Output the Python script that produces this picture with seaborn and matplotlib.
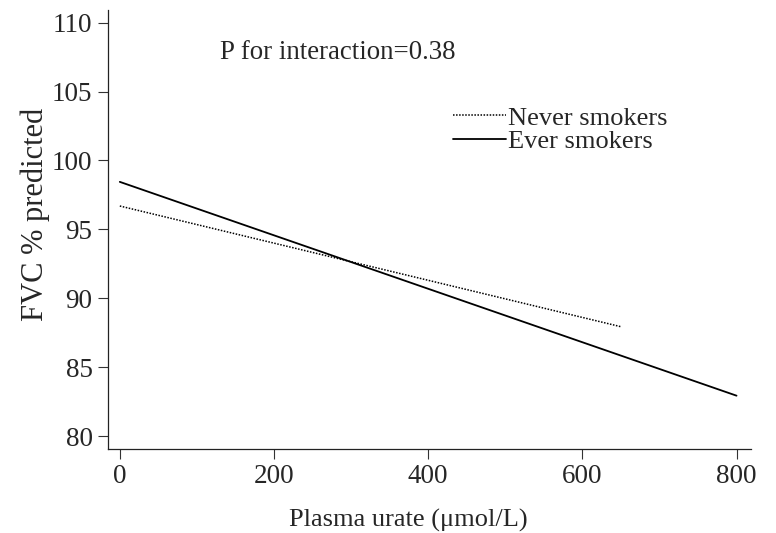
import matplotlib
matplotlib.use("Agg")
import matplotlib.pyplot as plt
import seaborn as sns
import pandas as pd

# data
never_urate = [0, 650]
never_fvc = [96.7, 87.95]
ever_urate = [0, 800]
ever_fvc = [98.45, 82.95]
x_ticks = [0, 200, 400, 600, 800]
y_ticks = [80, 85, 90, 95, 100, 105, 110]

df = pd.concat([
    pd.DataFrame({"urate": never_urate, "fvc": never_fvc, "group": "Never smokers"}),
    pd.DataFrame({"urate": ever_urate, "fvc": ever_fvc, "group": "Ever smokers"}),
])

sns.set_style("ticks")
plt.rcParams["font.family"] = ["Liberation Serif", "DejaVu Serif"]

fig = plt.figure(figsize=(7.76, 5.33), dpi=100)
ax = fig.add_axes([0.139, 0.158, 0.829, 0.823])

sns.lineplot(data=df[df.group == "Never smokers"], x="urate", y="fvc", ax=ax,
             color="black", linestyle=(0, (1, 1)), linewidth=1.1, label="Never smokers")
sns.lineplot(data=df[df.group == "Ever smokers"], x="urate", y="fvc", ax=ax,
             color="black", linestyle="-", linewidth=1.3, label="Ever smokers")

ax.set_xlim(-15.5, 819)
ax.set_ylim(79.1, 110.9)
ax.set_xticks(x_ticks)
ax.set_yticks(y_ticks)
ax.tick_params(labelsize=19.5, length=7, width=0.8, color="#333333", pad=4)
for s in ["top", "right"]:
    ax.spines[s].set_visible(False)
for s in ["left", "bottom"]:
    ax.spines[s].set_linewidth(0.9)
    ax.spines[s].set_color("#222222")

ax.set_xlabel("Plasma urate (μmol/L)", fontsize=19)
ax.set_ylabel("FVC % predicted", fontsize=22)
ax.xaxis.set_label_coords(0.467, -0.137)
ax.yaxis.set_label_coords(-0.09, 0.535)

ax.text(130, 107.8, "P for interaction=0.38", fontsize=19.4, va="center", ha="left")

leg = ax.legend(loc="upper left", bbox_to_anchor=(0.52, 0.805), frameon=False,
                fontsize=19, handlelength=2.0, handletextpad=0.1, labelspacing=0.0,
                borderaxespad=0)

fig.savefig("out.png", dpi=100)
